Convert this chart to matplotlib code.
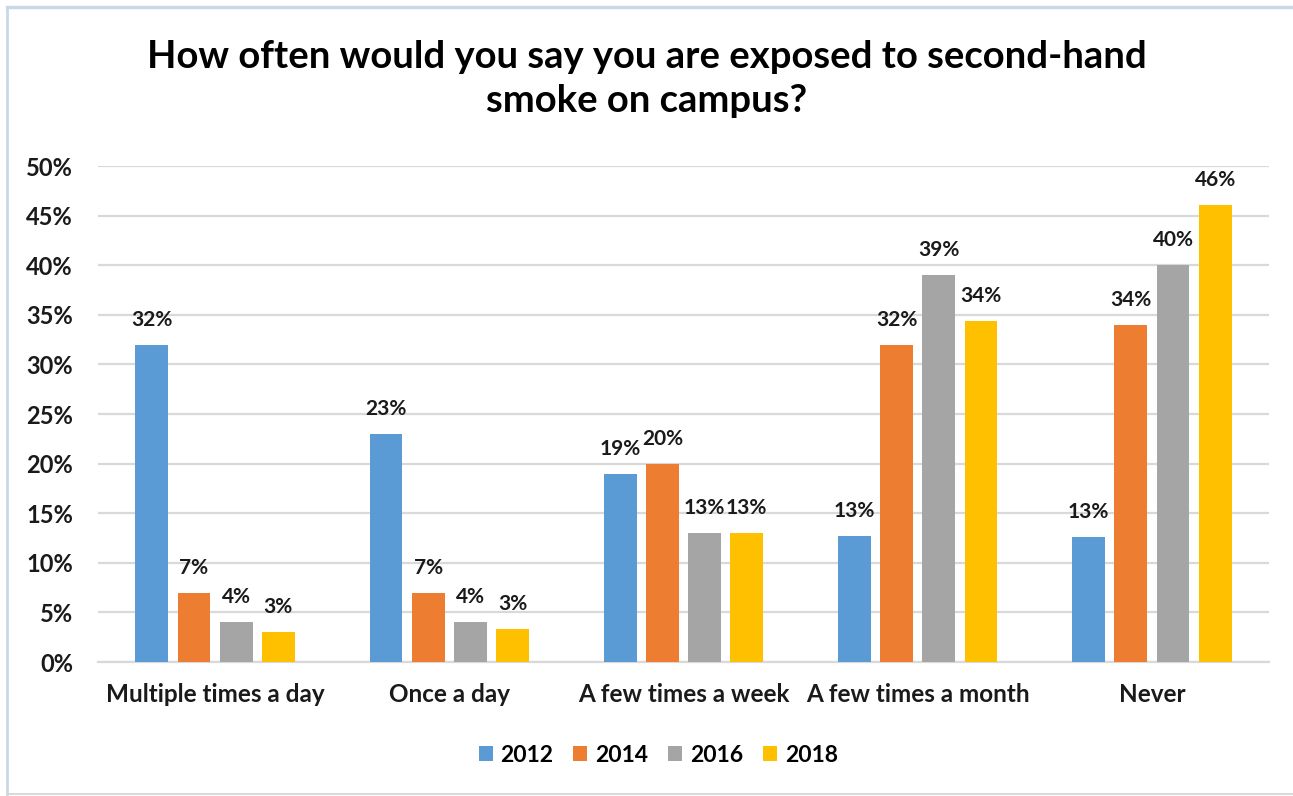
import matplotlib
matplotlib.use("Agg")
import matplotlib.pyplot as plt
import numpy as np
from matplotlib.lines import Line2D

categories = ["Multiple times a day", "Once a day", "A few times a week",
              "A few times a month", "Never"]
years = ["2012", "2014", "2016", "2018"]
v2012 = [32.0, 23.0, 19.0, 12.7, 12.6]
v2014 = [7.0, 7.0, 20.0, 32.0, 34.0]
v2016 = [4.0, 4.0, 13.0, 39.0, 40.0]
v2018 = [3.0, 3.3, 13.0, 34.4, 46.1]
series = [v2012, v2014, v2016, v2018]
colors = ["#5B9BD5", "#ED7D31", "#A5A5A5", "#FFC000"]
yticks = [0, 5, 10, 15, 20, 25, 30, 35, 40, 45, 50]

plt.rcParams["font.family"] = ["Lato", "DejaVu Sans"]
plt.rcParams["font.weight"] = "bold"

fig = plt.figure(figsize=(12.93, 7.96), dpi=100)
ax = fig.add_axes([98 / 1293, 1 - 662 / 796, (1269 - 98) / 1293, (662 - 166) / 796])

x = np.arange(len(categories))
width = 0.14
step = 0.18
for i, (vals, col, yr) in enumerate(zip(series, colors, years)):
    pos = x + (i - 1.5) * step
    bars = ax.bar(pos, vals, width=width, color=col, label=yr, zorder=3)
    for b, v in zip(bars, vals):
        ax.text(b.get_x() + b.get_width() / 2, v + 1.5, f"{v:.0f}%",
                ha="center", va="bottom", fontsize=15, fontweight="bold",
                color="#1A1A1A")

ax.set_xlim(-0.5, len(categories) - 0.5)
ax.set_ylim(0, 50)
ax.set_yticks(yticks)
ax.set_yticklabels([f"{t}%" for t in yticks])
ax.yaxis.grid(True, color="#D9D9D9", linewidth=1.6, zorder=0)
ax.set_axisbelow(True)
for s in ["top", "right", "left"]:
    ax.spines[s].set_visible(False)
ax.spines["bottom"].set_color("#D9D9D9")
ax.spines["bottom"].set_linewidth(1.6)
ax.tick_params(axis="both", length=0, labelcolor="#1A1A1A")
ax.tick_params(axis="y", pad=18, labelsize=17)
ax.tick_params(axis="x", pad=15, labelsize=17.5)
ax.set_xticks(x)
ax.set_xticklabels(categories, fontweight="bold")
for lab in ax.get_yticklabels():
    lab.set_fontweight("bold")

fig.text(0.5, 1 - 57 / 796, "How often would you say you are exposed to second-hand",
         ha="center", va="center", fontsize=27.5, fontweight="bold", color="#000000")
fig.text(0.5, 1 - 101 / 796, "smoke on campus?",
         ha="center", va="center", fontsize=27.5, fontweight="bold", color="#000000")

handles, labels = ax.get_legend_handles_labels()
fig.legend(handles, labels, loc="center", bbox_to_anchor=(658.5 / 1293, 1 - 755 / 796),
           ncol=4, frameon=False, handlelength=0.61, handleheight=0.61,
           columnspacing=0.87, handletextpad=0.35, prop={"weight": "bold", "size": 16.5})

# chart frame
fig.add_artist(Line2D([7 / 1293, 1], [1 - 7 / 796, 1 - 7 / 796],
                      transform=fig.transFigure, color="#C9D7E6", linewidth=2.5))
fig.add_artist(Line2D([7 / 1293, 7 / 1293], [1 - 7 / 796, 1 - 794 / 796],
                      transform=fig.transFigure, color="#C9D7E6", linewidth=2))
fig.add_artist(Line2D([7 / 1293, 1], [1 - 794 / 796, 1 - 794 / 796],
                      transform=fig.transFigure, color="#D9D9D9", linewidth=1.5))

fig.savefig("out.png", dpi=100, facecolor="white")
